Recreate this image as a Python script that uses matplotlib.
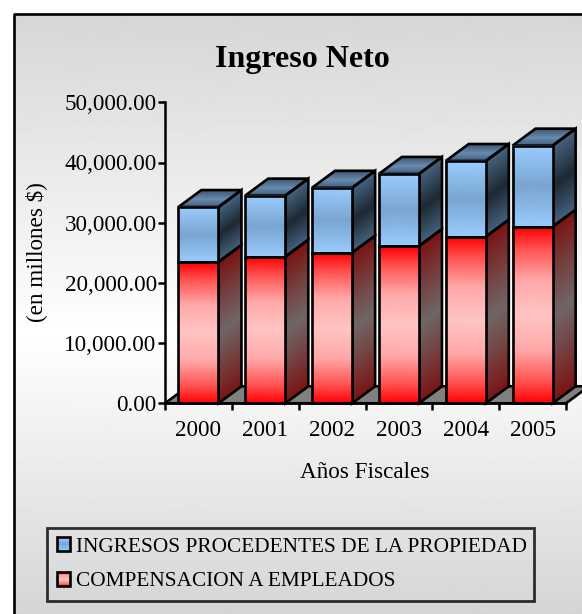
import numpy as np
import matplotlib
matplotlib.use("Agg")
import matplotlib.pyplot as plt
from matplotlib.colors import LinearSegmentedColormap
from matplotlib.lines import Line2D
from matplotlib.patches import Polygon, Rectangle
from matplotlib.ticker import StrMethodFormatter
from matplotlib.legend_handler import HandlerBase

plt.rcParams['font.family'] = ['Liberation Serif', 'DejaVu Serif']

years = ['2000', '2001', '2002', '2003', '2004', '2005']
compensacion = [23470, 24350, 25020, 26130, 27680, 29340]
propiedad = [9130, 10150, 10780, 11970, 12570, 13460]
series_names = ['INGRESOS PROCEDENTES DE LA PROPIEDAD', 'COMPENSACION A EMPLEADOS']

W, H = 582, 614
fig = plt.figure(figsize=(W / 100, H / 100), dpi=100, facecolor='white')

def px_axes(x0, y0, x1, y1, **kw):
    return fig.add_axes([x0 / W, 1 - y1 / H, (x1 - x0) / W, (y1 - y0) / H], **kw)

# panel background
bg = px_axes(14, 14, W, H)
bg.set_axis_off()
yy = np.arange(14, H)
grey = np.interp(yy, [14, 335, 614], [0xD6, 0xFF, 0xD5]) / 255
bg.imshow(grey[:, None], cmap='gray', vmin=0, vmax=1, aspect='auto', interpolation='bilinear')
fig.add_artist(Line2D([14 / W, 14 / W, 1], [0, 1 - 13.5 / H, 1 - 13.5 / H], color='black', lw=1.9))

# plot axes
ax = px_axes(165, 102.3, 566, 403.3)
ax.patch.set_alpha(0)
ax.set_xlim(-0.5, 5.5)
ax.set_ylim(0, 50000)
BAR_W = 0.6
DX = 23 / (401 / 6)
DY = 17 / 301 * 50000
LW = 1.9
N = 60

def mesh(xb, yb, cmap, z):
    ax.pcolormesh(xb, yb, np.linspace(0, 1, xb.shape[0])[:, None] * np.ones(xb.shape),
                  cmap=cmap, vmin=0, vmax=1, shading='gouraud', zorder=z, clip_on=False)

def cm(*cols):
    return LinearSegmentedColormap.from_list('c', cols, N=512)

front_red = cm((0, '#ff0000'), (0.12, '#ff5050'), (0.3, '#ffa8a8'), (0.5, '#ffc4c4'),
               (0.7, '#ffa8a8'), (0.88, '#ff5050'), (1, '#ff0000'))
side_red = cm((0, '#7a1414'), (0.3, '#744848'), (0.5, '#706666'), (0.7, '#744848'), (1, '#7a1414'))
front_blue = cm('#9accff', '#7aa5d0', '#9accff')
side_blue = cm('#46637f', '#1e2933', '#46637f')
top_blue = cm('#3f5a78', '#6a8cb0', '#3f5a78')

# floor
ax.add_patch(Polygon([(-0.5, 0), (5.5, 0), (5.5 + DX, DY), (-0.5 + DX, DY)], closed=True,
                     fc='#808080', ec='black', lw=LW, zorder=1, clip_on=False))

def face_front(x0, x1, y0, y1, cmap, z):
    t = np.linspace(y0, y1, N)
    xb = np.column_stack([np.full(N, x0), np.full(N, x1)])
    yb = np.column_stack([t, t])
    mesh(xb, yb, cmap, z)
    ax.add_patch(Polygon([(x0, y0), (x1, y0), (x1, y1), (x0, y1)], closed=True, fill=False,
                         ec='black', lw=LW, zorder=z + 0.1, clip_on=False))

def face_side(x1, y0, y1, cmap, z):
    t = np.linspace(y0, y1, N)
    xb = np.column_stack([np.full(N, x1), np.full(N, x1 + DX)])
    yb = np.column_stack([t, t + DY])
    mesh(xb, yb, cmap, z)
    ax.add_patch(Polygon([(x1, y0), (x1 + DX, y0 + DY), (x1 + DX, y1 + DY), (x1, y1)], closed=True,
                         fill=False, ec='black', lw=LW, zorder=z + 0.1, clip_on=False))

def face_top(x0, x1, y, cmap, z):
    s = np.linspace(0, 1, N)
    xb = np.column_stack([x0 + s * DX, x1 + s * DX])
    yb = np.column_stack([y + s * DY, y + s * DY])
    mesh(xb, yb, cmap, z)
    ax.add_patch(Polygon([(x0, y), (x1, y), (x1 + DX, y + DY), (x0 + DX, y + DY)], closed=True,
                         fill=False, ec='black', lw=LW, zorder=z + 0.1, clip_on=False))

for i in range(len(years)):
    x0, x1 = i - BAR_W / 2, i + BAR_W / 2
    a, b = compensacion[i], compensacion[i] + propiedad[i]
    z = 2 + i
    face_side(x1, 0, a, side_red, z)
    face_side(x1, a, b, side_blue, z)
    face_top(x0, x1, b, top_blue, z)
    face_front(x0, x1, 0, a, front_red, z + 0.2)
    face_front(x0, x1, a, b, front_blue, z + 0.2)

for s in ('top', 'right'):
    ax.spines[s].set_visible(False)
for s in ('left', 'bottom'):
    ax.spines[s].set_linewidth(1.8)
    ax.spines[s].set_zorder(20)
ax.set_xticks(np.arange(-0.5, 6, 1))
ax.set_xticks(np.arange(0, 6), minor=True)
ax.set_xticklabels([])
ax.set_xticklabels(years, minor=True)
ax.tick_params(axis='x', which='major', length=5, width=1.8, direction='out')
ax.tick_params(axis='x', which='minor', length=0, pad=12, labelsize=16.7)
ax.set_yticks(np.arange(0, 50001, 10000))
ax.yaxis.set_major_formatter(StrMethodFormatter('{x:,.2f}'))
ax.tick_params(axis='y', length=5, width=1.8, direction='out', pad=1, labelsize=16.7)

fig.text(302 / W, 1 - 59.5 / H, 'Ingreso Neto', fontsize=23, fontweight='bold', ha='center', va='center')
fig.text(36 / W, 1 - 252 / H, '(en millones $)', fontsize=16.7, rotation=90, ha='center', va='center')
fig.text(365 / W, 1 - 472 / H, 'Años Fiscales', fontsize=16.7, ha='center', va='center')

# legend with gradient swatches
class GradHandler(HandlerBase):
    def __init__(self, cmap):
        super().__init__()
        self.cmap = cmap
    def create_artists(self, legend, orig, xd, yd, width, height, fontsize, trans):
        arts = []
        n = 12
        for k in range(n):
            arts.append(Rectangle((-xd, -yd + height * k / n), width, height / n + 0.3,
                                  fc=self.cmap((k + 0.5) / n), ec='none', transform=trans))
        arts.append(Rectangle((-xd, -yd), width, height, fill=False, ec='black', lw=1.9, transform=trans))
        return arts

h1 = Rectangle((0, 0), 1, 1)
h2 = Rectangle((0, 0), 1, 1)
leg = ax.legend([h1, h2], series_names, handler_map={h1: GradHandler(front_blue), h2: GradHandler(front_red)},
                loc='lower left', bbox_to_anchor=(47 / W, 1 - 601 / H, 487 / W, 73 / H),
                bbox_transform=fig.transFigure, mode='expand', fontsize=15.35,
                frameon=True, fancybox=False, facecolor='none', edgecolor='black', framealpha=None,
                handlelength=0.62, handleheight=0.62, handletextpad=0.28, borderpad=0.45,
                labelspacing=0.72, borderaxespad=0)
leg.get_frame().set_linewidth(2.0)

fig.savefig('out.png', dpi=100)
